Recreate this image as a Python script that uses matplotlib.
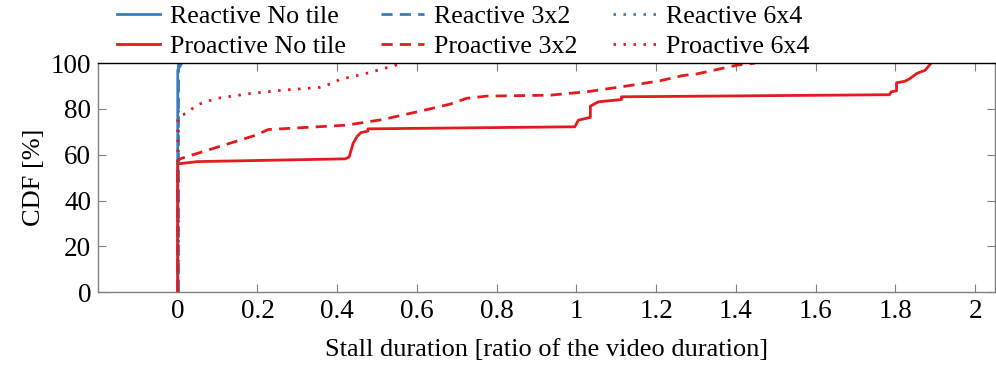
import matplotlib
matplotlib.use('Agg')
import matplotlib.pyplot as plt
import numpy as np

plt.rcParams['font.family'] = 'Liberation Serif'
plt.rcParams['mathtext.fontset'] = 'stix'

BLUE = '#3a7dbd'
RED = '#e41a1c'
GREY = '#808080'

# stall duration (ratio of video duration) vs CDF [%]
react_none_x = [0, 0, 0.0, 0.01]
react_none_y = [0, 94, 97, 100]
react_3x2_x = [0, 0]
react_3x2_y = [0, 100]
react_6x4_x = [0, 0]
react_6x4_y = [0, 100]

pro_none_x = [0, 0, 0.05, 0.42, 0.43, 0.44, 0.45, 0.46, 0.477, 0.477, 0.996, 1.005,
              1.035, 1.035, 1.055, 1.113, 1.113, 1.785, 1.79, 1.803, 1.803, 1.824,
              1.837, 1.854, 1.875, 1.89]
pro_none_y = [0, 56, 57, 58.2, 59, 65, 68, 69.7, 70.3, 71.3, 72.2, 75.1,
              76.3, 81.2, 83.1, 84.1, 85.3, 86.2, 87.5, 87.9, 91.4, 92.1,
              93.3, 95.5, 96.9, 100]

pro_3x2_x = [0, 0, 0.009, 0.197, 0.227, 0.423, 0.515, 0.62, 0.683, 0.724, 0.775,
             0.934, 1.026, 1.126, 1.21, 1.268, 1.30, 1.402, 1.448]
pro_3x2_y = [0, 57.5, 58.4, 68.6, 71, 72.9, 75.4, 79.5, 82.1, 84.6, 85.6,
             86, 87.5, 90, 92.3, 94.6, 95.2, 99.1, 100]

pro_6x4_x = [0, 0, 0.008, 0.022, 0.047, 0.097, 0.181, 0.264, 0.356, 0.386, 0.407,
             0.473, 0.565]
pro_6x4_y = [0, 75, 77.3, 78, 81.7, 84.6, 86.7, 88.2, 89.4, 91.1, 92.9,
             95.5, 100]

fig = plt.figure(figsize=(9.96, 3.67), dpi=100)
ax = fig.add_axes([0.0984, 0.204, 0.9006, 0.624])

lw = 2.0
dashed = (0, (4, 2.6))
dotted = (0, (0.9, 2.7))
ax.plot(react_none_x, react_none_y, color=BLUE, lw=lw, ls='-', label='Reactive No tile')
ax.plot(pro_none_x, pro_none_y, color=RED, lw=lw, ls='-', label='Proactive No tile')
ax.plot(react_3x2_x, react_3x2_y, color=BLUE, lw=lw, ls=dashed, label='Reactive 3x2')
ax.plot(pro_3x2_x, pro_3x2_y, color=RED, lw=lw, ls=dashed, label='Proactive 3x2')
ax.plot(react_6x4_x, react_6x4_y, color=BLUE, lw=lw, ls=dotted, label='Reactive 6x4')
ax.plot(pro_6x4_x, pro_6x4_y, color=RED, lw=lw, ls=dotted, label='Proactive 6x4')

ax.set_xlim(-0.2, 2.05)
ax.set_ylim(0, 100)
ax.set_xticks(np.arange(0, 2.01, 0.2))
ax.set_xticklabels(['0', '0.2', '0.4', '0.6', '0.8', '1', '1.2', '1.4', '1.6', '1.8', '2'])
ax.set_yticks(np.arange(0, 101, 20))

ax.tick_params(direction='in', length=6, width=0.8, color=GREY, labelsize=19.5,
               top=True, right=True, pad=5)
for s in ['left', 'bottom', 'right']:
    ax.spines[s].set_color(GREY)
    ax.spines[s].set_linewidth(1.0)
ax.spines['top'].set_color('black')
ax.spines['top'].set_linewidth(1.0)

ax.set_xlabel('Stall duration [ratio of the video duration]', fontsize=19, labelpad=11)
ax.set_ylabel('CDF [%]', fontsize=19, labelpad=4)

ax.legend(loc='lower left', bbox_to_anchor=(0.021, 1.022), ncol=3, frameon=False,
          fontsize=18.7, handlelength=1.65, columnspacing=1.38, handletextpad=0.38,
          labelspacing=0.26, borderaxespad=0.0, borderpad=0.0)

plt.savefig('out.png', dpi=100)
